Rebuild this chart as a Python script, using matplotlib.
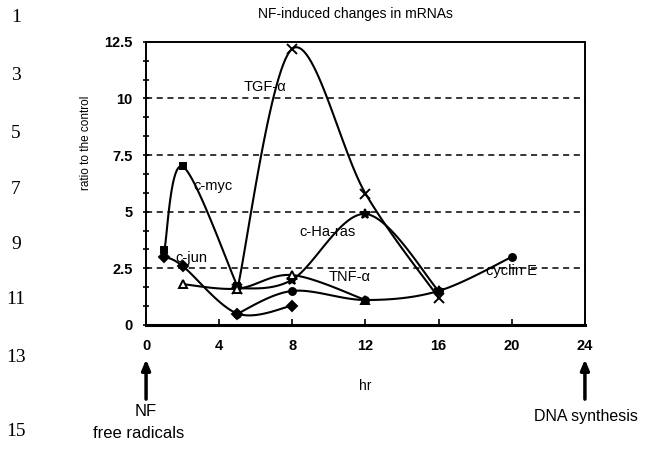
import numpy as np
import matplotlib
matplotlib.use('Agg')
import matplotlib.pyplot as plt

plt.rcParams['font.family'] = ['Liberation Sans', 'DejaVu Sans']

# values (hr, ratio to the control)
tgf_hr = [5, 8, 12, 16]
tgf_val = [1.6, 12.2, 5.8, 1.2]
myc_hr = [1, 2, 5]
myc_val = [3.3, 7.0, 1.7]
jun_hr = [1, 2, 5, 8]
jun_val = [3.0, 2.6, 0.5, 0.85]
ras_hr = [5, 8, 12, 16]
ras_val = [1.6, 2.0, 4.9, 1.5]
tnf_hr = [2, 5, 8, 12]
tnf_val = [1.8, 1.6, 2.2, 1.1]
cyc_hr = [5, 8, 12, 16, 20]
cyc_val = [0.5, 1.5, 1.1, 1.5, 3.0]

x_ticks = [0, 4, 8, 12, 16, 20, 24]
y_ticks = [0, 2.5, 5, 7.5, 10, 12.5]
y_ticklabels = ['0', '2.5', '5', '7.5', '10', '12.5']

line_numbers = ['1', '3', '5', '7', '9', '11', '13', '15']
line_number_y = [18, 75, 133, 190, 245, 300, 357, 432]


def smooth(x, y, n=30):
    # Excel-like smoothed line through the points (Bezier segments)
    x = np.asarray(x, float)
    y = np.asarray(y, float)
    if len(x) < 3:
        return x, y
    px = np.concatenate([[x[0]], x, [x[-1]]])
    py = np.concatenate([[y[0]], y, [y[-1]]])
    xs, ys = [], []
    t = np.linspace(0, 1, n)
    for i in range(1, len(px) - 2):
        p0 = np.array([px[i], py[i]])
        p3 = np.array([px[i + 1], py[i + 1]])
        p1 = p0 + (np.array([px[i + 1], py[i + 1]]) - np.array([px[i - 1], py[i - 1]])) / 6
        p2 = p3 - (np.array([px[i + 2], py[i + 2]]) - np.array([px[i], py[i]])) / 6
        b = ((1 - t) ** 3)[:, None] * p0 + (3 * (1 - t) ** 2 * t)[:, None] * p1 \
            + (3 * (1 - t) * t ** 2)[:, None] * p2 + (t ** 3)[:, None] * p3
        xs.extend(b[:, 0])
        ys.extend(b[:, 1])
    return np.array(xs), np.array(ys)


fig = plt.figure(figsize=(6.55, 4.5), dpi=100)
ax = fig.add_axes([0.223, 0.278, 0.670, 0.629])

series = [
    (tgf_hr, tgf_val, 'x', 'k', 7),
    (myc_hr, myc_val, 's', 'k', 5),
    (jun_hr, jun_val, 'D', 'k', 5),
    (ras_hr, ras_val, '*', 'k', 7),
    (tnf_hr, tnf_val, '^', 'white', 6),
    (cyc_hr, cyc_val, 'o', 'k', 5),
]
for hx, hy, mk, fc, ms in series:
    sx, sy = smooth(hx, hy)
    ax.plot(sx, sy, color='k', lw=1.5, zorder=3)
    ax.plot(hx, hy, linestyle='none', marker=mk, markersize=ms,
            markerfacecolor=fc, markeredgecolor='k', markeredgewidth=1.4, zorder=4)

for g in y_ticks[1:-1]:
    ax.axhline(g, color='k', lw=1.1, ls=(0, (4, 3)), zorder=1)

ax.set_xlim(0, 24)
ax.set_ylim(0, 12.5)
ax.set_xticks(x_ticks)
ax.set_yticks(y_ticks)
ax.set_yticklabels(y_ticklabels)
ax.set_yticks(np.arange(0, 12.6, 2.5 / 3), minor=True)
ax.tick_params(axis='y', which='both', direction='inout', length=5, width=1.2,
               labelsize=10.5, pad=7)
ax.tick_params(axis='x', direction='in', length=4, width=1.2, labelsize=10.5, pad=10)
for lab in ax.get_xticklabels() + ax.get_yticklabels():
    lab.set_fontweight('bold')
for s in ax.spines.values():
    s.set_linewidth(1.4)
ax.spines['bottom'].set_linewidth(2.2)

ax.text(6.5, 10.5, 'TGF-α', fontsize=10.5, ha='center', va='center', zorder=5)
ax.text(2.6, 6.15, 'c-myc', fontsize=10.5, ha='left', va='center', zorder=5)
ax.text(1.6, 2.95, 'c-jun', fontsize=10.5, ha='left', va='center', zorder=5)
ax.text(8.4, 4.1, 'c-Ha-ras', fontsize=10.5, ha='left', va='center', zorder=5)
ax.text(10.0, 2.1, 'TNF-α', fontsize=10.5, ha='left', va='center', zorder=5)
ax.text(18.6, 2.4, 'cyclin E', fontsize=10.5, ha='left', va='center', zorder=5)

fig.text(355 / 655, 1 - 14 / 450, 'NF-induced changes in mRNAs', fontsize=10,
         ha='center', va='center')
fig.text(86 / 655, 1 - 143 / 450, 'ratio to the control', fontsize=8.5,
         rotation=90, ha='center', va='center')
fig.text(365 / 655, 1 - 386 / 450, 'hr', fontsize=10, ha='center', va='center')

# arrows under the time axis
for hx in [0, 24]:
    ax.annotate('', xy=(hx, -1.4), xytext=(hx, -3.4), xycoords='data',
                arrowprops=dict(arrowstyle='-|>,head_width=0.25,head_length=0.6',
                                color='k', lw=2.5), annotation_clip=False)
fig.text(146 / 655, 1 - 411 / 450, 'NF', fontsize=12, ha='center', va='center')
fig.text(139 / 655, 1 - 433 / 450, 'free radicals', fontsize=12, ha='center', va='center')
fig.text(586 / 655, 1 - 417 / 450, 'DNA synthesis', fontsize=11.5, ha='center', va='center')

for lab, yy in zip(line_numbers, line_number_y):
    fig.text(16 / 655, 1 - yy / 450, lab, fontsize=14, ha='center', va='center',
             family='Liberation Serif')

fig.savefig('out.png', dpi=100)
